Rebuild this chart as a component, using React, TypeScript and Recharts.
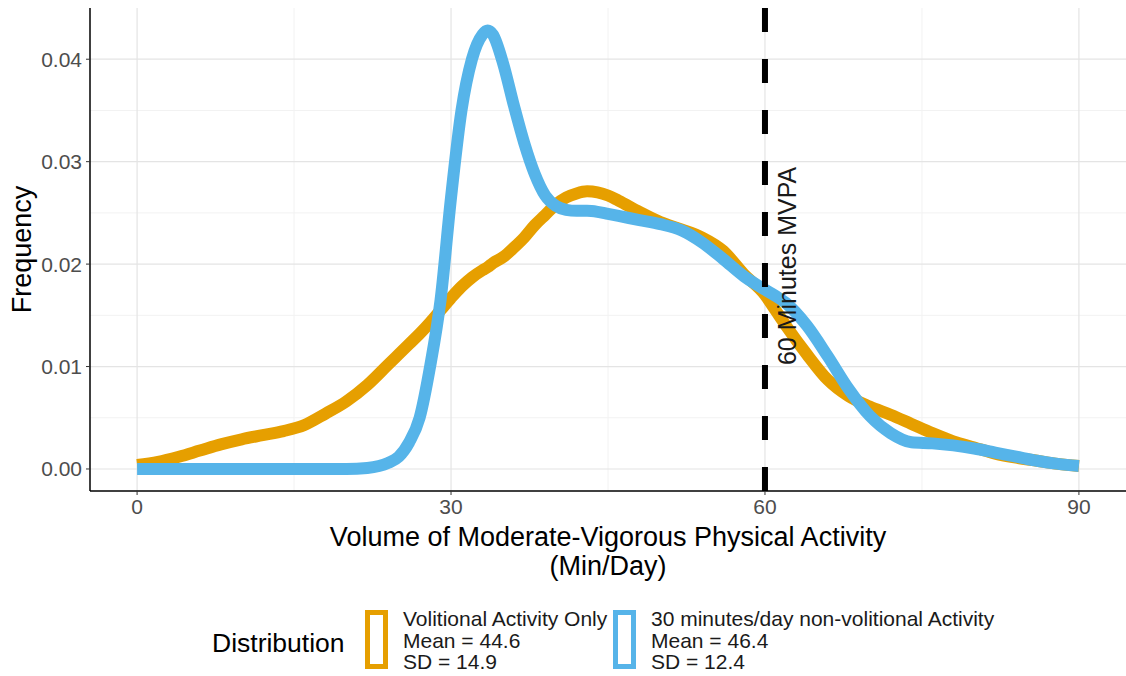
import { LineChart, Line, XAxis, YAxis, CartesianGrid, ReferenceLine, Label } from 'recharts';

// minutes of MVPA per day (x positions of the density estimates)
const minutes = [
  0, 2, 4, 6, 8, 10, 12, 14, 16, 18, 20, 22, 24, 25, 26, 27, 28, 29, 30, 31, 32, 33, 33.5, 34, 35,
  36, 37, 38, 39, 40, 41, 42, 43, 44, 45, 46, 48, 50, 52, 54, 56, 58, 60, 61, 62, 64, 66, 68, 70,
  72, 74, 76, 78, 80, 82, 84, 86, 88, 90,
];

// density: volitional activity only
const volitional = [
  0.0004, 0.0007, 0.0012, 0.0018, 0.0024, 0.0029, 0.0033, 0.0037, 0.0043, 0.0054, 0.0066, 0.0082,
  0.0102, 0.0112, 0.0122, 0.0132, 0.0143, 0.0155, 0.0167, 0.0178, 0.0187, 0.0194, 0.0197, 0.0201,
  0.0207, 0.0216, 0.0226, 0.0238, 0.0248, 0.0258, 0.0265, 0.0269, 0.0271, 0.027, 0.0267, 0.0262,
  0.0251, 0.0241, 0.0234, 0.0226, 0.0213, 0.019, 0.017, 0.0155, 0.014, 0.0112, 0.0087, 0.0071, 0.0061,
  0.0053, 0.0044, 0.0035, 0.0027, 0.0021, 0.0015, 0.0011, 0.0008, 0.0005, 0.0003,
];

// density: 30 minutes/day non-volitional activity
const nonVolitional = [
  0, 0, 0, 0, 0, 0, 0, 0, 0, 0, 0, 0.0001, 0.0006, 0.0012, 0.0026, 0.005, 0.01, 0.0165, 0.0265,
  0.035, 0.04, 0.0424, 0.0428, 0.0424, 0.0395, 0.0355, 0.0318, 0.0288, 0.0267, 0.0257, 0.0253,
  0.0252, 0.0252, 0.0251, 0.0249, 0.0247, 0.0243, 0.0239, 0.0233, 0.0221, 0.0205, 0.0188, 0.0175,
  0.0169, 0.0162, 0.014, 0.011, 0.0078, 0.0052, 0.0035, 0.0026, 0.0025, 0.0023, 0.002, 0.0016,
  0.0012, 0.0008, 0.0005, 0.0003,
];

const xTicks = [0, 30, 60, 90];
const xMinor = [15, 45, 75];
const yTicks = [0, 0.01, 0.02, 0.03, 0.04];
const yMinor = [0.005, 0.015, 0.025, 0.035];

const seriesNames = ['Volitional Activity Only', '30 minutes/day non-volitional Activity'];
const seriesMeans = [44.6, 46.4];
const seriesSds = [14.9, 12.4];
const seriesColors = ['#E69F00', '#56B4E9'];

const thresholdMinutes = 60;

const data = minutes.map((m, i) => ({
  minutes: m,
  volitional: volitional[i],
  nonVolitional: nonVolitional[i],
}));

const FONT = '"Liberation Sans", Arial, sans-serif';

export default function App() {
  return (
    <div style={{ position: 'absolute', left: 0, top: 0, width: 1126, height: 676, background: '#fff', fontFamily: FONT }}>
      <LineChart width={1126} height={676} data={data} margin={{ top: 8, right: 0, left: 0, bottom: 125 }}>
        <CartesianGrid stroke="#f2f2f2" strokeWidth={1} horizontalValues={yMinor} verticalValues={xMinor} />
        <CartesianGrid stroke="#e4e4e4" strokeWidth={1.2} horizontalValues={yTicks} verticalValues={xTicks} />
        <XAxis
          type="number"
          dataKey="minutes"
          domain={[-4.5, 94.5]}
          ticks={xTicks}
          allowDataOverflow
          height={60}
          tickSize={4}
          tickMargin={4}
          tick={{ fill: '#4d4d4d', fontSize: 21, fontFamily: FONT }}
          tickLine={{ stroke: '#333' }}
          axisLine={{ stroke: '#000', strokeWidth: 1.5 }}
        >
          <Label
            content={({ viewBox }: any) => {
              const cx = viewBox.x + viewBox.width / 2;
              const y = viewBox.y;
              return (
                <g fontFamily={FONT} fontSize={27} fill="#000" textAnchor="middle">
                  <text x={cx} y={y + 55}>Volume of Moderate-Vigorous Physical Activity</text>
                  <text x={cx} y={y + 84}>(Min/Day)</text>
                </g>
              );
            }}
          />
        </XAxis>
        <YAxis
          type="number"
          domain={[-0.00215, 0.045]}
          ticks={yTicks}
          allowDataOverflow
          width={90}
          tickSize={4}
          tickMargin={4}
          tickFormatter={(v: number) => v.toFixed(2)}
          tick={{ fill: '#4d4d4d', fontSize: 21, fontFamily: FONT }}
          tickLine={{ stroke: '#333' }}
          axisLine={{ stroke: '#000', strokeWidth: 1.5 }}
        >
          <Label
            content={({ viewBox }: any) => {
              const cy = viewBox.y + viewBox.height / 2;
              return (
                <text
                  x={0}
                  y={0}
                  transform={`translate(31, ${cy}) rotate(-90)`}
                  textAnchor="middle"
                  fontFamily={FONT}
                  fontSize={27}
                  fill="#000"
                >
                  Frequency
                </text>
              );
            }}
          />
        </YAxis>
        <Line
          type="monotone"
          dataKey="volitional"
          stroke={seriesColors[0]}
          strokeWidth={12}
          dot={false}
          isAnimationActive={false}
        />
        <Line
          type="monotone"
          dataKey="nonVolitional"
          stroke={seriesColors[1]}
          strokeWidth={12}
          dot={false}
          isAnimationActive={false}
        />
        <ReferenceLine x={thresholdMinutes} stroke="#000" strokeWidth={6} strokeDasharray="24 27">
          <Label
            content={({ viewBox }: any) => {
              const x = viewBox.x + 31;
              const cy = 266;
              return (
                <text
                  x={0}
                  y={0}
                  transform={`translate(${x}, ${cy}) rotate(-90)`}
                  textAnchor="middle"
                  fontFamily={FONT}
                  fontSize={25}
                  fill="#1a1a1a"
                >
                  60 Minutes MVPA
                </text>
              );
            }}
          />
        </ReferenceLine>
      </LineChart>

      {/* Legend */}
      <div style={{ position: 'absolute', left: 212, top: 628, fontSize: 26.5, color: '#000', lineHeight: '30px' }}>
        Distribution
      </div>
      {seriesNames.map((name, i) => (
        <div key={name} style={{ position: 'absolute', left: i === 0 ? 365 : 613, top: 610 }}>
          <div
            style={{
              position: 'absolute',
              left: 0,
              top: 0,
              width: 23,
              height: 59,
              boxSizing: 'border-box',
              border: `5px solid ${seriesColors[i]}`,
            }}
          />
          <div style={{ position: 'absolute', left: 38, top: -2, fontSize: 21, lineHeight: '21.5px', color: '#1a1a1a', whiteSpace: 'nowrap' }}>
            <div>{name}</div>
            <div>Mean = {seriesMeans[i]}</div>
            <div>SD = {seriesSds[i]}</div>
          </div>
        </div>
      ))}
    </div>
  );
}
